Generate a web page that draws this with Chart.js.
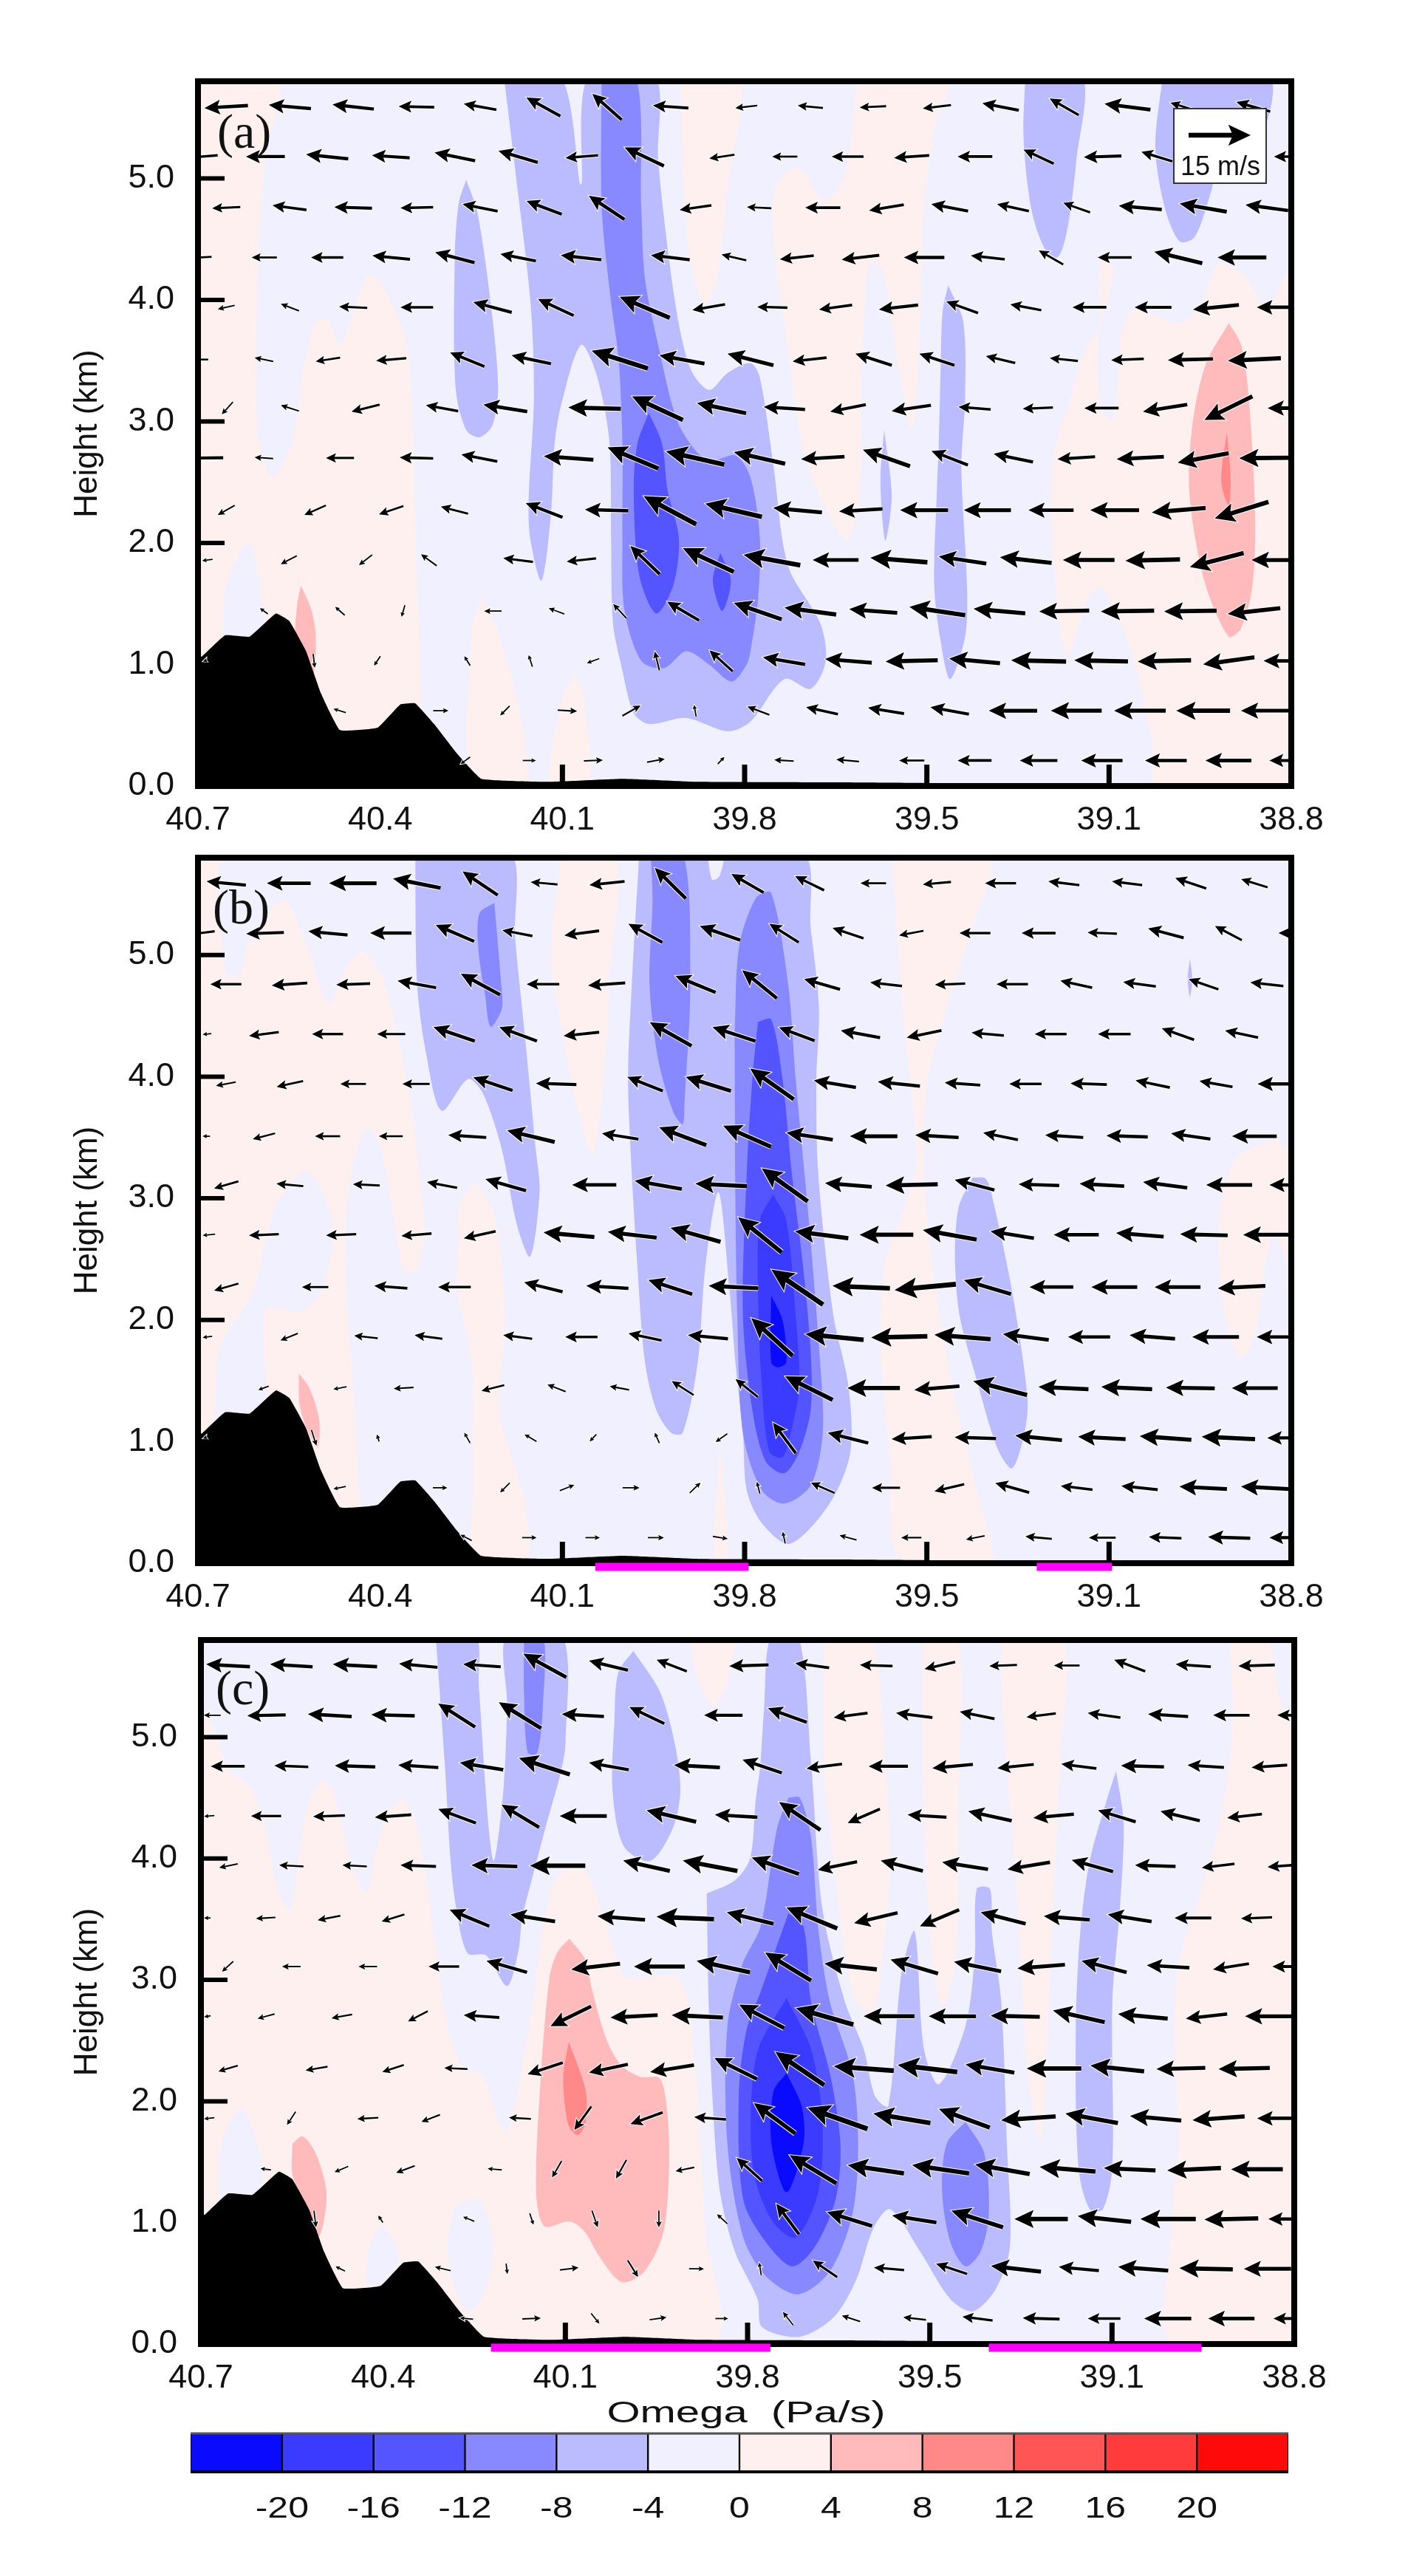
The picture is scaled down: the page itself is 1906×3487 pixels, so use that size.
<!DOCTYPE html>
<html>
<head>
<meta charset="utf-8">
<title>Omega cross sections</title>
<script src="https://cdn.jsdelivr.net/npm/chart.js@4"></script>
<style>
body{margin:0;background:#fff;width:1906px;height:3487px;overflow:hidden}
canvas{position:absolute;left:0}
</style>
</head>
<body>
<canvas id="panelA" width="1906" height="1150" style="top:0"></canvas>
<canvas id="panelB" width="1906" height="1180" style="top:1030px"></canvas>
<canvas id="panelC" width="1906" height="1150" style="top:2090px"></canvas>
<canvas id="colorbar" width="1906" height="247" style="top:3240px"></canvas>
<script>
// x is position along the section (the lat labels are not evenly spaced on it)
const sectionMax = 2903
const xTickLabels = ['40.7','40.4','40.1','39.8','39.5','39.1','38.8']
const heightTicks = [0,1,2,3,4,5]
const heightMax = 5.8
const barLevels = [-20,-16,-12,-8,-4,0,4,8,12,16,20]
const barColors = ['#0a0aff','#3b3bff','#5555ff','#8888ff','#bbbbff','#f0f0ff','#fff0f0','#ffbbbb','#ff8888','#ff5555','#ff3b3b','#ff0a0a']
const fillColors = {n1:'#f0f0ff',n2:'#bbbbff',n3:'#8888ff',n4:'#5555ff',n5:'#3b3bff',n6:'#0a0aff',p1:'#fff0f0',p2:'#ffbbbb',p3:'#ff8888'}

const terrain = [[-5,0],[-5,1.04],[12,1.07],[72,1.24],[137,1.23],[207,1.42],[242,1.36],[287,1.11],[327,.76],[377,.46],[477,.48],[537,.67],[577,.68],[627,.51],[687,.27],[752,.06],[930,.035],[1127,.06],[1327,.035],[1700,.03],[2910,0]]

const windHeights = [5.59,5.18,4.76,4.35,3.94,3.51,3.11,2.70,2.27,1.86,1.44,1.03,.62,.21]

const contoursA = [
['p1',[[-5,5.85],[208,5.85],[178,5.14],[160,4.37],[158,2.93],[198,2.54],[253,2.85],[278,3.40],[313,3.82],[343,3.84],[378,3.63],[448,4.19],[478,4.17],[548,3.71],[568,3.20],[578,2.04],[593,.68],[593,0],[-5,0]]],
['n1',[[68,1.0],[68,1.26],[75,1.65],[133,2.0],[168,1.57],[170,1.0]]],
['p2',[[273,1.65],[300,1.46],[313,1.23],[303,.9],[260,1.1],[262,1.46]]],
['p1',[[752,1.57],[797,1.26],[857,.57],[867,0],[730,0],[727,1.26]]],
['p1',[[1002,.93],[1022,.76],[1037,0],[937,0],[967,.72]]],
['p1',[[1282,5.85],[1292,4.76],[1317,4.17],[1347,3.96],[1377,4.17],[1407,4.95],[1437,5.85]]],
['p1',[[1752,5.85],[1717,5.03],[1662,4.81],[1597,5.09],[1537,4.95],[1527,4.56],[1567,3.59],[1617,2.66],[1722,2.02],[1757,2.43],[1762,3.40],[1782,4.29],[1817,4.25],[1857,3.51],[1897,2.93],[1917,3.79],[1927,4.76],[1957,5.42],[1992,5.85]]],
['p1',[[2887,4.21],[2837,3.94],[2777,4.21],[2707,4.29],[2667,3.98],[2607,3.81],[2487,3.92],[2452,3.71],[2442,3.28],[2427,3.01],[2397,3.13],[2392,3.71],[2432,4.25],[2397,4.33],[2392,3.75],[2362,3.63],[2317,3.20],[2267,2.62],[2277,1.65],[2307,1.07],[2342,1.34],[2367,1.57],[2397,1.63],[2447,1.38],[2497,.88],[2537,.29],[2547,0],[2910,0],[2910,4.25]]],
['n2',[[712,4.99],[742,4.72],[777,3.98],[797,3.28],[782,2.97],[747,2.87],[712,2.93],[684,3.28],[682,4.37],[692,4.79]]],
['n2',[[812,5.85],[847,4.95],[883,3.98],[892,3.2],[878,2.35],[882,2.04],[912,1.69],[937,2.23],[947,2.82],[967,3.17],[1017,3.63],[1057,3.40],[1092,2.85],[1097,2.04],[1102,1.34],[1127,.95],[1157,.60],[1197,.51],[1297,.56],[1407,.45],[1467,.53],[1557,.88],[1627,.80],[1667,1.03],[1652,1.34],[1567,1.81],[1527,2.66],[1492,3.36],[1467,3.48],[1407,3.40],[1357,3.26],[1307,3.44],[1267,3.98],[1222,5.14],[1212,5.85],[1037,5.85],[1017,4.95],[962,5.85]]],
['n2',[[1992,4.12],[2032,3.82],[2037,3.2],[2027,2.62],[2042,1.65],[2037,1.23],[1997,.88],[1972,1.19],[1955,1.65],[1962,2.43],[1967,2.82],[1972,3.44],[1977,3.90]]],
['n2',[[1822,2.93],[1842,2.39],[1825,2.02],[1812,2.51]]],
['n2',[[2197,5.85],[2347,5.85],[2332,5.14],[2307,4.56],[2282,4.35],[2247,4.43],[2212,4.76],[2192,5.34]]],
['n2',[[2562,5.85],[2842,5.85],[2822,5.34],[2700,5.0],[2692,4.91],[2647,4.52],[2607,4.48],[2567,4.76],[2542,5.26]]],
['n3',[[1072,5.85],[1162,5.85],[1177,4.76],[1187,4.17],[1222,3.63],[1272,3.01],[1327,2.74],[1367,2.68],[1427,2.72],[1467,2.54],[1492,2.04],[1487,1.54],[1467,1.11],[1457,1.0],[1417,.86],[1357,1.0],[1297,1.11],[1237,.97],[1177,1.03],[1132,1.46],[1127,2.04],[1127,2.82],[1117,3.51],[1097,3.98],[1072,4.76]]],
['n4',[[1197,3.07],[1232,2.82],[1247,2.43],[1277,2.04],[1262,1.65],[1217,1.42],[1172,1.73],[1157,2.43],[1167,2.82]]],
['n4',[[1387,1.92],[1415,1.69],[1392,1.44],[1367,1.69]]],
['p2',[[2737,3.81],[2770,3.63],[2790,3.2],[2807,2.23],[2800,1.65],[2770,1.30],[2737,1.23],[2672,1.69],[2632,2.43],[2642,3.01],[2677,3.48]]],
['p3',[[2732,2.91],[2742,2.54],[2737,2.31],[2717,2.51]]]
]

const contoursB = [
['p1',[[-5,5.85],[47,5.85],[60,5.26],[75,4.85],[110,4.83],[135,5.10],[227,5.45],[287,5.10],[347,4.60],[397,4.91],[437,5.03],[487,4.83],[527,4.37],[567,3.75],[587,3.2],[602,2.74],[582,2.41],[547,2.41],[517,2.89],[487,3.40],[457,3.57],[437,3.55],[407,3.2],[392,2.82],[397,2.04],[412,1.46],[427,.59],[427,0],[-5,0]]],
['n1',[[208,2.97],[287,3.22],[347,2.93],[357,2.62],[327,2.23],[267,2.06],[207,2.10],[177,2.06],[177,1.65],[187,.88],[40,.88],[47,1.34],[57,1.77],[147,2.23],[177,2.62]]],
['p1',[[737,3.14],[787,2.85],[815,2.04],[800,1.26],[840,.80],[867,.49],[872,0],[740,0],[730,.68],[727,1.65],[690,2.23],[690,2.62],[697,2.97]]],
['p1',[[967,5.85],[1107,5.85],[1092,4.76],[1087,4.37],[1067,3.67],[1047,3.36],[1007,3.75],[967,4.37],[937,4.99]]],
['p1',[[1387,.99],[1407,0],[1372,0]]],
['p1',[[1842,5.85],[1857,5.14],[1877,4.37],[1907,3.51],[1907,3.24],[1877,2.93],[1822,2.43],[1815,1.65],[1837,.88],[1867,0],[2102,0],[2077,.49],[2007,1.38],[1947,2.51],[1927,3.2],[1927,3.44],[1937,3.98],[1987,4.56],[2047,5.14],[2102,5.85]]],
['p1',[[2867,3.48],[2767,3.36],[2722,3.05],[2709,2.62],[2727,2.04],[2767,1.69],[2807,1.88],[2832,2.43],[2857,2.70],[2887,2.50],[2895,2.2],[2910,2.2],[2910,3.3]]],
['n2',[[577,5.85],[827,5.85],[842,5.14],[867,4.37],[897,3.40],[907,3.05],[882,2.52],[847,2.78],[807,3.40],[757,3.86],[717,3.98],[647,3.72],[607,4.17],[582,4.76]]],
['n2',[[1172,5.85],[1152,4.76],[1142,3.98],[1152,3.2],[1167,2.43],[1187,1.65],[1217,1.26],[1257,1.07],[1287,1.07],[1327,1.65],[1347,2.43],[1382,3.05],[1412,2.23],[1427,1.65],[1447,1.07],[1457,.6],[1497,.33],[1572,.16],[1677,.49],[1732,.91],[1727,1.46],[1687,2.04],[1647,3.2],[1642,3.98],[1649,4.56],[1627,5.22],[1602,5.85]]],
['n1',[[1352,5.85],[1395,5.85],[1385,5.65],[1365,5.62]]],
['n2',[[2057,3.17],[2092,3.16],[2112,2.97],[2162,2.23],[2202,1.38],[2197,1.11],[2162,.78],[2122,.95],[2062,1.57],[2022,2.04],[2010,2.51],[2020,2.93]]],
['n2',[[2634,4.97],[2640,4.8],[2634,4.66],[2628,4.8]]],
['n3',[[787,5.43],[805,4.76],[807,4.56],[777,4.41],[762,4.68],[745,5.03],[747,5.34]]],
['n3',[[1202,5.85],[1287,5.85],[1307,4.76],[1292,3.79],[1287,3.61],[1262,3.71],[1222,4.14],[1199,4.76],[1207,5.45]]],
['n3',[[1425,4.37],[1437,5.07],[1482,5.47],[1522,5.51],[1567,4.76],[1587,3.98],[1622,2.82],[1652,1.65],[1659,1.07],[1627,.64],[1557,.49],[1497,.60],[1447,1.07],[1432,2.04],[1427,3.0]]],
['n4',[[1487,4.45],[1522,4.47],[1552,3.98],[1577,3.2],[1607,2.43],[1627,1.73],[1627,1.26],[1597,.92],[1557,.74],[1507,.84],[1472,1.26],[1447,2.04],[1457,3.2],[1472,3.98]]],
['n5',[[1527,3.03],[1562,2.82],[1587,2.04],[1597,1.46],[1577,1.11],[1552,.87],[1517,.92],[1497,1.46],[1487,2.23],[1492,2.82]]],
['n6',[[1522,2.2],[1552,2.0],[1562,1.65],[1540,1.61],[1522,1.65]]],
['p2',[[268,1.56],[296,1.44],[322,1.18],[318,.95],[290,1.1],[270,1.3]]]
]

const contoursC = [
['p1',[[-5,5.18],[13,5.18],[48,4.95],[78,4.72],[133,4.58],[168,4.29],[203,3.75],[238,3.57],[258,3.98],[288,4.48],[328,4.64],[358,4.48],[398,3.98],[438,3.71],[468,4.10],[508,4.43],[543,4.48],[578,4.21],[618,3.40],[648,2.74],[688,2.31],[748,2.20],[788,1.85],[813,1.75],[838,2.04],[878,2.74],[908,3.40],[948,3.86],[1018,3.90],[1078,3.44],[1128,3.03],[1268,3.01],[1308,2.43],[1338,.95],[1353,0],[-5,0]]],
['n1',[[48,1.2],[55,1.65],[108,1.94],[150,1.65],[163,1.26],[130,1.0],[48,1.0]]],
['n1',[[443,.76],[478,.97],[515,.84],[523,.68],[500,.53],[443,.5]]],
['n1',[[653,.80],[678,1.13],[738,1.19],[770,.95],[772,.64],[745,.37],[710,.27],[670,.49]]],
['p2',[[978,3.34],[1020,3.17],[1040,2.9],[1078,2.5],[1118,2.29],[1168,2.2],[1218,2.19],[1238,1.92],[1243,1.46],[1228,.92],[1178,.60],[1118,.51],[1058,.72],[1018,.93],[978,1.01],[912,.97],[890,1.26],[903,2.23],[925,3.01],[945,3.22]]],
['p3',[[977,2.49],[1022,2.08],[1020,1.81],[1000,1.72],[975,1.81],[962,2.2]]],
['p2',[[243,1.65],[270,1.71],[305,1.57],[333,1.26],[325,.99],[310,.88],[280,1.1],[243,1.4]]],
['p1',[[1293,5.85],[1413,5.85],[1393,5.42],[1363,5.26],[1323,5.45]]],
['p1',[[1655,5.85],[1775,5.85],[1815,4.83],[1830,3.98],[1810,3.2],[1780,2.7],[1730,2.89],[1680,3.98],[1655,4.76]]],
['p1',[[1915,5.85],[2010,5.85],[2010,4.37],[2005,3.2],[1970,2.78],[1940,3.2],[1920,4.37]]],
['p1',[[2125,5.85],[2288,5.85],[2280,4.76],[2260,3.40],[2230,1.69],[2195,2.23],[2170,3.59],[2130,5.14]]],
['p1',[[2730,5.85],[2825,5.85],[2870,5.26],[2910,5.1],[2910,.1],[2855,0],[2575,0],[2575,.87],[2595,1.65],[2585,2.62],[2600,3.2],[2650,3.67],[2710,4.37],[2740,5.14]]],
['n2',[[623,5.85],[648,4.76],[663,3.98],[678,3.59],[708,3.22],[758,3.2],[813,2.95],[843,3.24],[853,3.51],[878,3.82],[918,4.29],[953,4.68],[968,4.95],[958,5.85],[813,5.85],[813,5.26],[803,4.56],[778,3.98],[763,4.29],[738,5.42],[728,5.85]]],
['n2',[[1148,5.71],[1218,5.38],[1258,4.95],[1273,4.56],[1253,4.25],[1193,3.98],[1123,4.10],[1093,4.56],[1098,5.14],[1108,5.53]]],
['n2',[[1343,3.71],[1348,2.82],[1358,2.04],[1378,1.26],[1418,.76],[1478,.37],[1490,.14],[1590,.06],[1680,.22],[1740,.53],[1785,.95],[1830,1.11],[1910,.76],[1990,.37],[2050,.27],[2110,.45],[2148,.8],[2140,1.65],[2125,2.82],[2100,3.40],[2095,3.75],[2060,3.75],[2055,3.2],[2030,2.62],[1960,2.14],[1920,2.43],[1895,3.40],[1860,3.05],[1825,1.96],[1790,2.04],[1760,2.43],[1710,2.82],[1650,3.59],[1620,4.79],[1585,5.85],[1515,5.85],[1495,5.22],[1485,4.76],[1473,4.48],[1458,4.0],[1418,3.82]]],
['n2',[[2430,4.72],[2450,4.29],[2440,3.59],[2420,2.82],[2420,1.46],[2395,1.11],[2360,1.11],[2330,1.46],[2323,2.62],[2335,3.40],[2360,3.98],[2405,4.48]]],
['n3',[[858,5.85],[908,5.85],[908,5.26],[893,4.87],[868,4.87],[858,5.34]]],
['n3',[[1560,4.5],[1590,4.5],[1620,4.17],[1640,3.40],[1670,2.82],[1730,2.23],[1745,1.65],[1730,1.07],[1670,.60],[1585,.41],[1500,.56],[1440,.88],[1398,1.65],[1398,2.62],[1438,3.13],[1486,3.44],[1530,4.25]]],
['n3',[[2030,1.83],[2080,1.57],[2092,1.07],[2070,.76],[2030,.64],[1990,.84],[1968,1.26],[1980,1.65]]],
['n4',[[1560,3.55],[1600,3.44],[1620,2.82],[1670,2.23],[1698,1.65],[1685,1.19],[1630,.80],[1570,.64],[1500,.84],[1440,1.19],[1428,2.04],[1448,2.58],[1486,2.9],[1520,3.2]]],
['n5',[[1555,2.85],[1620,2.43],[1650,1.85],[1640,1.26],[1580,.88],[1520,1.0],[1470,1.38],[1460,1.9],[1480,2.43]]],
['n6',[[1555,2.23],[1595,1.96],[1600,1.65],[1555,1.25],[1515,1.65],[1520,2.08]]]
]

// wind rows, top row first: x, u (m/s), w (scaled), repeated
const windA = [
[75,-10.5,-.6, 244,-10.2,.9, 412,-10,1.1, 580,-8.6,.2, 749,-7.9,1.4, 917,-8.2,4.5, 1086,-7.1,6.3, 1255,-8.6,.6, 1456,-5.3,-.6, 1626,-6.1,.6, 1792,-6.4,-.3, 1962,-6.8,-.8, 2131,-8.8,1.7, 2300,-7,4, 2468,-11.1,1.4, 2617,-6.4,2, 2802,-8.2,2.3],
[10,-7.7,-.6, 179,-9.4,0, 343,-10.2,1.1, 512,-9.1,.6, 682,-9.8,2, 850,-9.5,2.8, 1019,-7.9,-.6, 1185,-9.5,4.5, 1391,-6.1,-.9, 1558,-6.1,0, 1725,-7.7,0, 1895,-8.5,-.6, 2063,-8.4,0, 2232,-7.3,3.4, 2402,-9.1,-.3, 2546,-7.5,2.3, 2902,-8.2,0],
[75,-6.8,-.3, 243,-8.2,1.1, 412,-9.1,.3, 581,-7.9,-.2, 749,-8.5,1.7, 919,-8.5,3.2, 1085,-8.6,5.7, 1321,-7.7,-1.1, 1490,-5.9,.3, 1659,-8.5,0, 1828,-8.4,-1.4, 1996,-8.9,1.7, 2164,-7.7,1.7, 2333,-6.5,2.3, 2502,-10.4,.9, 2669,-11.4,2, 2838,-10.3,1.4],
[2,-6.2,-.3, 176,-6.1,0, 343,-7.8,0, 513,-9.1,.9, 682,-9.5,2.5, 850,-8.6,1.7, 1017,-9.8,1.1, 1254,-9.4,1.1, 1423,-6,1.4, 1590,-8.2,-.9, 1759,-9.1,-1.1, 1928,-9.8,0, 2097,-8.2,.9, 2265,-5.9,3.4, 2434,-8.2,0, 2603,-11.6,2.8, 2772,-11.8,0],
[75,-4.1,-.9, 244,-4.4,1.7, 412,-6.8,.3, 581,-7.9,0, 782,-9.3,2.5, 950,-8.6,4, 1186,-12.1,5.1, 1356,-7.9,-1.4, 1525,-7.3,.2, 1693,-8,-1.1, 1860,-9.5,-1.1, 2029,-7.7,2.8, 2198,-7.5,1.4, 2367,-8.2,0, 2536,-8.9,0, 2703,-11.1,-1.1, 2869,-10.5,0],
[-3,-5.5,0, 175,-4.5,.9, 345,-5.9,-.9, 513,-7.3,-.6, 715,-8.3,3.4, 885,-9.5,2, 1120,-13.6,4.3, 1285,-10.9,2, 1467,-11.1,2.8, 1624,-8.2,-.9, 1794,-8.8,2.8, 1962,-8.5,2.8, 2131,-7.1,1.7, 2299,-6.8,.7, 2468,-7.9,-.3, 2635,-10.9,-.3, 2805,-12.8,-.6],
[78,-2.7,-3, 244,-4.4,1.4, 445,-6.8,-1.7, 648,-7.8,1.4, 816,-10.6,1.7, 1053,-12.7,.3, 1220,-12.3,5.7, 1390,-11.9,2.5, 1557,-10,.6, 1726,-8.6,-1.7, 1894,-9.5,-1.4, 2062,-7.8,.6, 2230,-7.3,-.3, 2399,-8.3,0, 2568,-10.7,-1.7, 2736,-11.6,-5.7, 2900,-10.9,0],
[17,-9.1,-.1, 175,-4.5,.3, 377,-6.8,0, 580,-8.1,.2, 747,-8.7,1.7, 984,-12,.9, 1155,-12.3,5.1, 1320,-14.1,3.2, 1491,-12.4,2.8, 1659,-10.5,-.6, 1828,-11.4,4, 1996,-8.8,3.4, 2165,-9.5,2, 2332,-9.1,-.6, 2502,-11.4,-.6, 2669,-12.3,-2.3, 2836,-13,-.1],
[75,-4.1,-2.3, 311,-5.2,-2.3, 513,-5.9,-2, 681,-6.6,1.7, 919,-8.9,3.4, 1085,-10.5,.3, 1253,-12.7,6.8, 1422,-13.7,3.2, 1592,-11.8,1.1, 1760,-10.5,-.6, 1928,-11.6,0, 2096,-11.4,0, 2265,-10.9,0, 2434,-11.8,0, 2604,-13,-1.1, 2771,-13,-4],
[25,-2.5,-.3, 241,-3.9,-2, 445,-3.2,-2.5, 613,-3.8,2.8, 850,-7.2,.9, 1018,-7.1,-.8, 1187,-7.1,6.8, 1355,-12.3,5.7, 1524,-13.7,2.5, 1693,-11.1,0, 1861,-13.8,1.1, 2030,-11.5,1.7, 2198,-12.5,1.4, 2365,-12.5,0, 2535,-13.2,-.3, 2705,-13,-3.4, 2862,-11.8,0],
[175,-1.9,1.4, 377,-2.3,2, 545,-.8,-2.8, 783,-4.2,0, 952,-3.8,1.4, 1120,-3.2,3.4, 1288,-7.7,4.5, 1486,-11.6,4, 1626,-12.5,1.7, 1793,-11.6,.9, 1963,-13.5,2, 2128,-12.5,1.1, 2300,-12.1,-.2, 2468,-12.9,-.2, 2635,-12.7,-.2, 2804,-12.7,-1.4],
[18,-.9,-.3, 308,.4,-3.4, 476,-1.5,-2.3, 715,-1.4,2.3, 883,-.9,2.8, 1049,-3,-1.1, 1219,-1.1,4.5, 1389,-5.6,5.1, 1556,-10.2,1.7, 1727,-11.3,.9, 1895,-12.6,-.3, 2062,-12.3,1.1, 2232,-13.3,.3, 2398,-13,.3, 2566,-12.9,-.3, 2737,-12.4,-1.7, 2888,-10.7,0],
[376,-3,.9, 645,3.7,0, 815,-2.3,-2.3, 981,4.7,-.3, 1151,4.4,2.5, 1320,-.5,2.8, 1488,-5.3,2, 1657,-7.7,1.7, 1827,-8.7,1.4, 1996,-9.3,1.7, 2164,-11.7,0, 2332,-12.3,0, 2501,-12.5,0, 2669,-13,0, 2833,-11.6,0],
[710,-2.3,-1.7, 880,3.2,0, 1050,4.6,.2, 1216,4.3,.8, 1389,1.6,1.7, 1556,-4.7,.3, 1725,-5.5,.5, 1895,-6.1,0, 2062,-8.2,0, 2232,-9.1,0, 2400,-10,0, 2570,-10.1,0, 2736,-11.1,0, 2896,-9.3,0]
]

const windB = [
[75,-9.5,.9, 241,-10.6,0, 411,-11.5,0, 581,-11.5,2.3, 749,-8.5,5.7, 919,-6.5,.6, 1086,-8.5,-.9, 1254,-7.5,7.4, 1459,-7.8,4.5, 1624,-7,3.4, 1793,-6.2,0, 1962,-6.8,-.6, 2131,-7.5,0, 2299,-7.5,.9, 2467,-7.3,.9, 2636,-7.5,2.5, 2805,-6.4,2],
[6,-7,-.9, 178,-9.1,-.3, 345,-9.5,.9, 512,-10,0, 682,-9.3,4, 848,-7.3,1.4, 1019,-8.4,-1.1, 1188,-8.2,4.5, 1386,-9.8,3.4, 1556,-7.1,4.5, 1726,-7.5,2.5, 1894,-5.9,-1.1, 2063,-7.5,0, 2232,-8.2,0, 2401,-7.1,.3, 2570,-8.6,2.3, 2736,-6.5,3.4, 2913,-8,0],
[74,-7.5,0, 243,-8.6,-.6, 412,-8.2,-.3, 581,-9.3,1.7, 750,-9.5,5.1, 916,-7.9,0, 1085,-9,-.6, 1321,-9.7,4, 1491,-8.4,6.8, 1657,-8.7,2.5, 1827,-7.7,.9, 1997,-7.3,-.3, 2162,-7.6,0, 2332,-7.7,1.7, 2500,-7.9,1.1, 2670,-7.2,2.5, 2838,-8,.9],
[24,-2.1,-.2, 175,-7.2,-.9, 344,-7.5,0, 513,-6.8,0, 680,-10,3.4, 850,-9.1,3.4, 1018,-8.6,-.9, 1255,-10.1,5.7, 1423,-10.4,3.4, 1590,-8.6,3.2, 1759,-9.5,1.7, 1928,-8.4,-1.7, 2097,-7.8,.7, 2264,-7.7,0, 2433,-7.9,0, 2602,-7.8,2.8, 2771,-8,1.7],
[74,-4.8,-.9, 244,-6.4,-1.4, 412,-6.2,0, 579,-6.6,0, 783,-9.5,3.2, 951,-9.8,.3, 1187,-8.6,3.4, 1355,-10.9,3.4, 1524,-10.5,7.4, 1691,-10.2,1.7, 1861,-10.2,1.1, 2030,-8.6,.6, 2197,-7.8,0, 2365,-8.8,.3, 2535,-8.3,1.7, 2703,-8,1.4, 2870,-10.3,0],
[22,-1.8,0, 175,-5.4,-1.4, 344,-6.1,0, 512,-5.8,0, 715,-9.2,.6, 884,-11.5,2.8, 1121,-8.8,1.4, 1287,-11.4,4.3, 1458,-11.6,5.1, 1624,-11.2,1.7, 1794,-11.5,0, 1962,-10.5,.6, 2131,-8.4,1.7, 2300,-9.2,.6, 2467,-10,.3, 2636,-9.5,1.4, 2805,-10.8,0],
[75,-5.9,-1.7, 244,-6.5,.6, 447,-6.5,.3, 648,-7.3,1.4, 817,-9.8,2.8, 1052,-10.7,0, 1222,-11.4,2, 1389,-12.5,.6, 1558,-11.1,8, 1727,-11.3,.9, 1895,-12.6,-.3, 2062,-9.6,2.5, 2233,-9.8,.3, 2400,-10.8,.6, 2568,-10.7,1.4, 2738,-11.1,0, 2901,-10.2,0],
[29,-3,-.3, 175,-7.2,-.3, 380,-7.3,-.3, 580,-7.3,-.6, 748,-7.7,-1.7, 985,-12.3,1.1, 1153,-11.8,1.4, 1321,-12.1,3.4, 1492,-10.5,8.5, 1656,-12.9,1.7, 1828,-13,0, 1996,-13,2.3, 2162,-10.5,1.7, 2332,-10.9,0, 2501,-11.5,.9, 2671,-11.5,.3, 2841,-12,0],
[75,-5.9,-1.7, 311,-6.4,0, 512,-8,.6, 681,-7.9,0, 917,-9.3,2.3, 1087,-10.2,.6, 1254,-10.6,3.4, 1422,-12,.6, 1591,-12.5,8.5, 1761,-13.9,.6, 1931,-14.8,-1.4, 2096,-11.4,3.4, 2266,-10.6,0, 2433,-11.1,0, 2601,-11.1,0, 2771,-11.5,-.6],
[25,-2.3,-.3, 242,-4.2,-1.7, 446,-5.7,.6, 612,-6.7,.9, 849,-7,.9, 1018,-7.8,0, 1187,-8,1.7, 1354,-9.7,.9, 1524,-10,9.1, 1690,-14.1,1.4, 1862,-13.6,-.3, 2030,-13.6,1.1, 2198,-11.1,1.4, 2366,-10.2,0, 2534,-11,.9, 2702,-11.3,0, 2869,-10.5,0],
[174,-2.5,-.9, 377,-3.2,-.6, 546,-4.8,-.3, 783,-5.5,-1.4, 952,-4.4,1.7, 1119,-4.7,.9, 1287,-5.3,3.4, 1457,-5.4,4.3, 1622,-11.5,5.7, 1794,-12.7,0, 1962,-10.9,-.9, 2130,-13,3.4, 2298,-12.1,.6, 2466,-12.3,.6, 2635,-11.8,.2, 2806,-11.1,0],
[18,-.9,-.3, 308,1.2,-3.8, 478,-.5,1.7, 715,-1.4,2.5, 883,-2.9,1.7, 1049,-1.6,-1.7, 1219,-1.1,2.5, 1390,-2.8,-2, 1557,-5.5,7.4, 1726,-9.8,2.5, 1895,-9.7,-.6, 2064,-10,.3, 2232,-11.3,1.1, 2400,-11.5,.6, 2569,-12.5,.9, 2736,-12.9,.6, 2893,-9.8,0],
[376,-3,-.6, 643,3.5,0, 815,-2.3,-2.3, 980,3.5,1.4, 1150,4.1,0, 1320,2.6,2.5, 1488,-.7,2.8, 1659,-5.7,2.5, 1827,-6.8,0, 1995,-7.2,-1.7, 2162,-8.2,2.3, 2333,-7.7,.9, 2500,-8.8,.9, 2669,-11.5,.6, 2833,-11.6,.6],
[712,-2.7,1.4, 880,3.5,0, 1048,3.5,0, 1216,3.9,0, 1387,3.6,-.6, 1556,-.6,2.8, 1726,-4.1,1.1, 1894,-4.9,0, 2064,-4.5,-.9, 2232,-6.4,.6, 2401,-6.5,0, 2568,-7.9,.3, 2738,-10.2,.3, 2896,-9.3,0]
]

const windC = [
[72,-10.6,.6, 240,-10.3,.6, 409,-10.7,.6, 577,-9.3,.9, 746,-9.1,.6, 913,-10.4,5.7, 1082,-9.4,2.3, 1250,-7.3,2.8, 1455,-9.5,-.3, 1623,-8.2,1.1, 1793,-7.9,.3, 1962,-7.4,-1.7, 2130,-6.7,-.3, 2299,-6.2,0, 2466,-7.5,2.8, 2635,-8.5,.6, 2803,-8.8,-.3],
[30,-4.1,0, 174,-9.3,-.2, 342,-10.6,.6, 510,-10.5,.3, 679,-8.9,5.7, 847,-10.2,6.3, 1014,-10.2,.6, 1184,-8.4,4, 1387,-9.3,0, 1557,-9.4,3.4, 1725,-8.2,-1.1, 1894,-8.8,1.1, 2061,-8.4,1.7, 2231,-7.1,-.9, 2398,-7.9,1.1, 2568,-9.7,.6, 2736,-8.8,0, 2904,-8.4,0],
[71,-8.2,0, 240,-8.2,.3, 409,-9.8,.3, 577,-9.7,.6, 745,-10.5,1.7, 912,-12.3,4, 1083,-9.6,1.7, 1317,-11.1,.6, 1490,-9.5,3.2, 1655,-8.6,-1.1, 1825,-9.5,0, 1996,-9.8,-.9, 2163,-8.8,-.9, 2331,-8.5,1.1, 2500,-10.4,.3, 2668,-8.8,.6, 2837,-8.6,-.6],
[22,-2.5,-.2, 173,-7.3,0, 340,-7.7,-.3, 510,-8.8,-.6, 680,-9.1,3.4, 848,-9.1,5.5, 1015,-11.4,0, 1249,-12,2.8, 1421,-10.3,.6, 1590,-10,6.8, 1760,-7.8,-3.4, 1928,-9.4,.6, 2095,-10.5,2.3, 2264,-9.8,-.9, 2432,-9.1,2.8, 2600,-9.5,2.3, 2771,-8.4,-.9],
[73,-4.5,-.9, 240,-5.9,.3, 408,-5.9,.3, 577,-8.6,.3, 779,-11.1,.3, 947,-13.4,0, 1183,-11.3,2.5, 1352,-13.2,2.5, 1525,-11.4,4, 1690,-9.5,-2, 1861,-10.2,2.5, 2029,-11.1,1.7, 2198,-10.3,-1.7, 2367,-10,2.8, 2534,-9.8,.3, 2701,-7.9,-.9, 2876,-8,-.6],
[17,-1.6,0, 172,-4.7,-.3, 340,-5.5,-1.1, 510,-5.5,-1.7, 713,-9.6,4, 881,-10.8,1.7, 1116,-11.5,.9, 1286,-13.9,.6, 1458,-11.3,2.8, 1622,-12.3,5.1, 1792,-10.5,-2.5, 1961,-9.5,-4, 2130,-10.9,2.8, 2299,-11.1,.9, 2466,-10.6,1.7, 2634,-8.9,0, 2803,-7.5,-.3],
[71,-2.7,-2.5, 240,-4.5,0, 443,-4.5,0, 645,-7.4,0, 812,-9.8,2.8, 1048,-11.8,-1.4, 1217,-12.3,0, 1387,-12.9,2.8, 1559,-11.1,6.8, 1725,-12.7,1.4, 1894,-11.5,3.4, 2062,-11.4,2.3, 2231,-11.5,-.9, 2398,-10.9,2.8, 2568,-10.3,.6, 2735,-8.7,-1.4, 2892,-8.6,0],
[17,-1.6,-.3, 173,-4.1,-1.1, 374,-5,-.9, 576,-4.8,-2.5, 745,-8.6,.6, 982,-9.8,-4.8, 1150,-11.4,-.6, 1318,-12.4,.6, 1489,-10.9,5.7, 1656,-13.9,4, 1827,-12.3,0, 1995,-11.4,0, 2162,-11.9,.3, 2331,-12.5,2.8, 2501,-12,1.1, 2670,-10,-1.1, 2836,-11.6,0],
[72,-4.7,-1.4, 307,-5.3,-.9, 510,-5.2,-1.7, 677,-5.6,.3, 914,-8.5,-2.8, 1082,-9.4,-2, 1251,-10.6,-1.7, 1420,-10.3,5.1, 1590,-11.8,8, 1760,-14.5,1.1, 1929,-14.4,1.7, 2095,-11.8,2, 2265,-13.2,0, 2433,-13,1.4, 2602,-11.8,-.3, 2770,-12.4,-.3],
[22,-2.5,-.3, 240,-2.1,-3.2, 443,-5.1,-.3, 610,-4.5,-1.7, 847,-5.3,.3, 1014,-4.1,-5.7, 1183,-7.8,-2.8, 1352,-7.7,.6, 1523,-10,7.4, 1690,-14.5,5.1, 1861,-13.8,2.3, 2027,-12.3,4.5, 2197,-13.2,-.9, 2365,-12.7,2.3, 2535,-12.4,1.1, 2702,-12.6,-.9, 2862,-10.5,0],
[172,-2.5,.3, 373,-3.3,-1.4, 543,-4.5,-1.7, 780,-3.4,.3, 945,-2.3,-4, 1116,-2.5,-4.5, 1285,-4.5,-.9, 1456,-6.1,5.5, 1625,-11.3,6.8, 1792,-13.6,2, 1964,-13.8,2, 2128,-13.2,2.3, 2301,-13.5,1.1, 2466,-12.5,.6, 2637,-13,-.6, 2804,-12.5,0],
[303,.5,-4, 477,-1.1,1.7, 711,-2.7,1.1, 878,.9,-2.8, 1046,1.4,-4, 1216,0,-4, 1384,-2.5,2.3, 1558,-5.5,7.4, 1722,-10.9,3.4, 1894,-10.7,1.7, 2061,-12.5,4, 2231,-12.9,0, 2399,-12.9,1.4, 2568,-13.4,0, 2736,-13,-.3, 2887,-9.6,0],
[370,-2.3,1.1, 642,-3.8,.9, 812,.3,-2.5, 978,4.5,.6, 1147,2.5,-4, 1316,3.6,0, 1485,-.5,3, 1657,-5.9,4, 1827,-7.3,.6, 1993,-7.5,2.5, 2164,-12.1,1.4, 2331,-9.7,.9, 2502,-12.1,.9, 2669,-12.9,.3, 2832,-11.4,0],
[705,-3.2,.3, 878,4.5,.2, 1047,2,-2.5, 1214,4.1,.6, 1383,3.1,0, 1559,-2.5,3.2, 1726,-4.4,1.4, 1895,-5.5,.6, 2062,-7.3,.9, 2231,-8.9,.3, 2398,-7.9,0, 2567,-11.4,0, 2736,-11.2,0, 2894,-8.4,0]
]

const refSpeed = 15
const strongB = [[1055,1462],[2227,2427]]
const strongC = [[770,1512],[2092,2657]]

function drawArrow(ctx, x, y, dx, dy){
    const len = Math.hypot(dx, dy)
    if (len < 1) return
    const ux = dx/len, uy = dy/len
    const headL = Math.max(len*0.36, 6)
    const headW = Math.max(len*0.17, 3)
    const tipX = x + dx/2, tipY = y + dy/2
    const tailX = x - dx/2, tailY = y - dy/2
    const backX = tipX - ux*headL, backY = tipY - uy*headL
    const notchX = tipX - ux*headL*0.8, notchY = tipY - uy*headL*0.8
    const lw = Math.max(len*0.08, 1.8)
    function shape(){
        ctx.beginPath()
        ctx.moveTo(tipX, tipY)
        ctx.lineTo(backX - uy*headW, backY + ux*headW)
        ctx.lineTo(notchX, notchY)
        ctx.lineTo(backX + uy*headW, backY - ux*headW)
        ctx.closePath()
    }
    // white halo first
    ctx.strokeStyle = '#fff'
    ctx.lineWidth = lw + 2
    ctx.beginPath(); ctx.moveTo(tailX, tailY); ctx.lineTo(notchX, notchY); ctx.stroke()
    ctx.lineWidth = 2
    shape(); ctx.stroke()
    ctx.strokeStyle = '#000'
    ctx.fillStyle = '#000'
    ctx.lineWidth = lw
    ctx.beginPath(); ctx.moveTo(tailX, tailY); ctx.lineTo(notchX, notchY); ctx.stroke()
    shape(); ctx.fill()
}

function makePanel(id, cfg){
    const pxPerMs = 5.6
    const datasets = []
    datasets.push({data:[[-5,-.1],[2910,-.1],[2910,5.9],[-5,5.9],[-5,-.1]], color:'n1'})
    cfg.contours.forEach(c => datasets.push({data:c[1].concat([c[1][0]]), color:c[0]}))
    const all = datasets.map((d,i) => ({
        data:d.data, showLine:true, fill:'shape', backgroundColor:fillColors[d.color],
        borderWidth:0, borderColor:'transparent', pointRadius:0, tension:i==0?0:.3,
        order:1000-i
    }))
    all.push({data:terrain.concat([terrain[0]]), showLine:true, fill:'shape', backgroundColor:'#000', borderWidth:0, pointRadius:0, tension:.1, order:1})

    const overlay = {
        id:'overlay',
        afterDatasetsDraw(chart){
            const ctx = chart.ctx, a = chart.chartArea, xs = chart.scales.x, ys = chart.scales.y
            ctx.save()
            ctx.beginPath(); ctx.rect(a.left, a.top, a.right-a.left, a.bottom-a.top); ctx.clip()
            cfg.wind.forEach((row, r) => {
                const py = ys.getPixelForValue(windHeights[r])
                for (let i = 0; i < row.length; i += 3){
                    drawArrow(ctx, xs.getPixelForValue(row[i]), py, row[i+1]*pxPerMs, -row[i+2]*pxPerMs)
                }
            })
            ctx.restore()

            // frame and inward ticks
            ctx.save()
            ctx.strokeStyle = '#000'
            ctx.lineWidth = 8
            ctx.strokeRect(a.left, a.top, a.right-a.left, a.bottom-a.top)
            ctx.lineWidth = 7
            xs.ticks.forEach((t,i) => {
                if (i == 0 || i == xs.ticks.length-1) return
                const px = xs.getPixelForValue(t.value)
                ctx.beginPath(); ctx.moveTo(px, a.bottom); ctx.lineTo(px, a.bottom-29); ctx.stroke()
            })
            ctx.lineWidth = 6
            ys.ticks.forEach((t,i) => {
                if (i == 0) return
                const py = ys.getPixelForValue(t.value)
                ctx.beginPath(); ctx.moveTo(a.left, py); ctx.lineTo(a.left+36, py); ctx.stroke()
            })
            ctx.lineCap = 'butt'
            ctx.strokeStyle = '#ff00ff'
            ctx.lineWidth = 11
            cfg.strong.forEach(s => {
                ctx.beginPath()
                ctx.moveTo(xs.getPixelForValue(s[0]), a.bottom+5)
                ctx.lineTo(xs.getPixelForValue(s[1]), a.bottom+5)
                ctx.stroke()
            })
            ctx.fillStyle = '#111'
            ctx.font = '66px "Liberation Serif"'
            ctx.textAlign = 'left'
            ctx.textBaseline = 'alphabetic'
            ctx.fillText(cfg.label, a.left+cfg.labelDx, a.top+cfg.labelDy)

            if (cfg.legend){
                const bx = a.left+1321, by = a.top+37
                ctx.fillStyle = '#fff'
                ctx.fillRect(bx, by, 125, 101)
                ctx.strokeStyle = '#333'
                ctx.lineWidth = 2
                ctx.strokeRect(bx, by, 125, 101)
                drawArrow(ctx, bx+62, by+36, refSpeed*pxPerMs, 0)
                ctx.fillStyle = '#111'
                ctx.font = '36px "Liberation Sans"'
                ctx.textAlign = 'center'
                ctx.textBaseline = 'middle'
                ctx.fillText(refSpeed+' m/s', bx+63, by+80)
            }
            ctx.restore()
        }
    }

    new Chart(document.getElementById(id), {
        type:'scatter',
        data:{datasets:all},
        plugins:[overlay],
        options:{
            responsive:false, animation:false, devicePixelRatio:1,
            layout:{padding:{left:0, right:cfg.right, top:cfg.top, bottom:0}},
            plugins:{legend:{display:false}, tooltip:{enabled:false}},
            scales:{
                x:{
                    type:'linear', min:0, max:sectionMax,
                    grid:{display:false, drawTicks:false}, border:{display:false},
                    afterBuildTicks(s){ s.ticks = xTickLabels.map((l,i) => ({value:i*sectionMax/6})) },
                    afterFit(s){ s.height = cfg.xHeight },
                    ticks:{autoSkip:false, maxRotation:0, padding:cfg.xPad, color:'#111', font:{family:'Liberation Sans', size:45},
                        callback:(v,i) => xTickLabels[i]}
                },
                y:{
                    type:'linear', min:0, max:heightMax,
                    grid:{display:false, drawTicks:false}, border:{display:false},
                    afterBuildTicks(s){ s.ticks = heightTicks.map(v => ({value:v})) },
                    afterFit(s){ s.width = cfg.left },
                    title:{display:true, text:'Height (km)', color:'#111', font:{family:'Liberation Sans', size:44}, padding:{top:92, bottom:0}},
                    ticks:{padding:32, color:'#111', font:{family:'Liberation Sans', size:45}, callback:v => v.toFixed(1)}
                }
            }
        }
    })
}

makePanel('panelA', {contours:contoursA, wind:windA, strong:[], label:'(a)', labelDx:26, labelDy:90, legend:true, left:268, right:158, top:110, xHeight:86, xPad:20})
makePanel('panelB', {contours:contoursB, wind:windB, strong:strongB, label:'(b)', labelDx:20, labelDy:89, left:268, right:158, top:131, xHeight:94, xPad:20})
makePanel('panelC', {contours:contoursC, wind:windC, strong:strongC, label:'(c)', labelDx:20, labelDy:87, left:272, right:154, top:130, xHeight:67, xPad:20})

// colour bar
const barEdges = [-24].concat(barLevels, [24])
new Chart(document.getElementById('colorbar'), {
    type:'bar',
    data:{labels:[''], datasets:barColors.map((c,i) => ({
        data:[[barEdges[i], barEdges[i+1]]], backgroundColor:c, borderColor:'#000', borderWidth:1.5,
        borderSkipped:false, grouped:false, barPercentage:1, categoryPercentage:1
    }))},
    plugins:[{
        id:'barText',
        afterDraw(chart){
            const ctx = chart.ctx, a = chart.chartArea, xs = chart.scales.x
            ctx.save()
            ctx.strokeStyle = '#555'; ctx.lineWidth = 3
            ctx.beginPath(); ctx.moveTo(a.left, a.top); ctx.lineTo(a.right, a.top); ctx.stroke()
            ctx.strokeStyle = '#000'; ctx.lineWidth = 4
            ctx.beginPath(); ctx.moveTo(a.left, a.bottom); ctx.lineTo(a.right, a.bottom); ctx.stroke()
            ctx.fillStyle = '#111'
            ctx.textAlign = 'center'
            ctx.textBaseline = 'middle'
            barLevels.forEach(v => {
                ctx.save()
                ctx.translate(xs.getPixelForValue(v), a.bottom+51)
                ctx.scale(1.25, 1)
                ctx.font = '40px "Liberation Sans"'
                ctx.fillText(String(v), 0, 0)
                ctx.restore()
            })
            ctx.save()
            ctx.translate(1010, 28)
            ctx.scale(1.45, 1)
            ctx.font = '40px "Liberation Sans"'
            ctx.fillText('Omega  (Pa/s)', 0, 0)
            ctx.restore()
            ctx.restore()
        }
    }],
    options:{
        indexAxis:'y', responsive:false, animation:false, devicePixelRatio:1,
        layout:{padding:{left:258, right:162, top:54, bottom:141}},
        plugins:{legend:{display:false}, tooltip:{enabled:false}},
        scales:{
            x:{type:'linear', min:-24, max:24, display:false},
            y:{display:false}
        }
    }
})
</script>
</body>
</html>
